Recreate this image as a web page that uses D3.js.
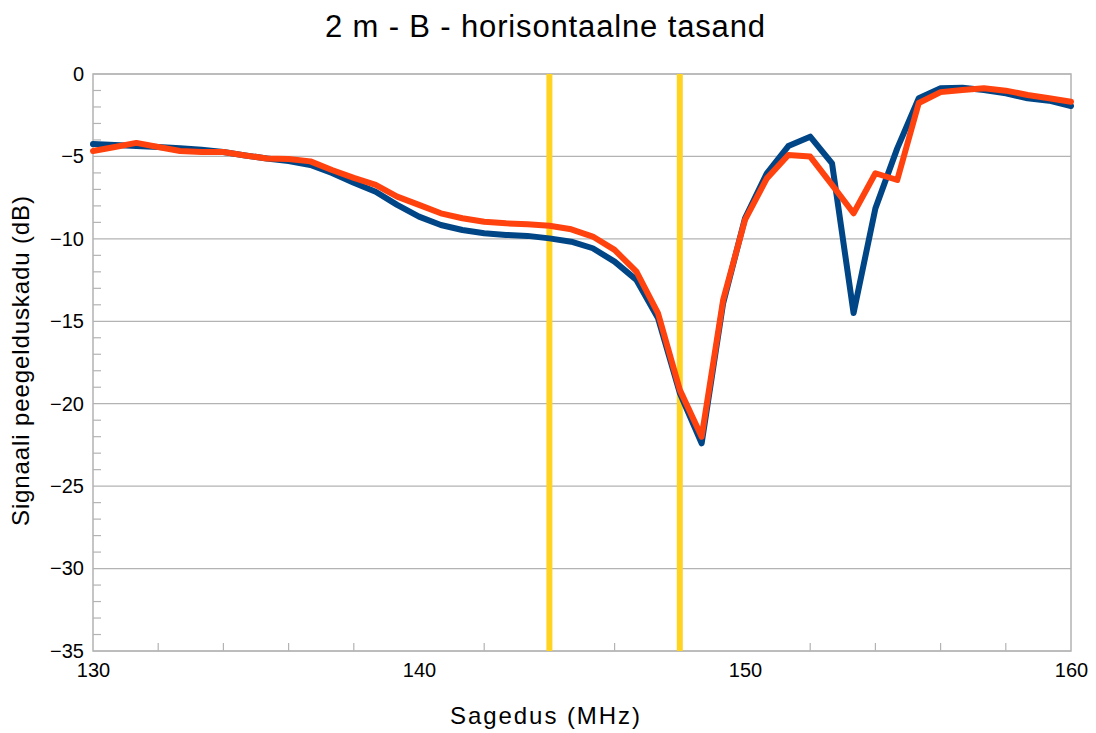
<!DOCTYPE html>
<html>
<head>
<meta charset="utf-8">
<script src="https://cdn.jsdelivr.net/npm/d3@7"></script>
<style>
  body { margin: 0; background: #fff; }
  svg { font-family: "Liberation Sans", Arial, sans-serif; }
</style>
</head>
<body>
<svg id="chart"></svg>
<script>
// frequency points (MHz)
const freq = [130, 130.67, 131.33, 132, 132.67, 133.33, 134, 134.67, 135.33, 136,
  136.67, 137.33, 138, 138.67, 139.33, 140, 140.67, 141.33, 142, 142.67,
  143.33, 144, 144.67, 145.33, 146, 146.67, 147.33, 148, 148.67, 149.33,
  150, 150.67, 151.33, 152, 152.67, 153.33, 154, 154.67, 155.33, 156,
  156.67, 157.33, 158, 158.67, 159.33, 160];

// blue series (dB)
const blueVals = [-4.25, -4.3, -4.37, -4.43, -4.5, -4.6, -4.73, -4.94, -5.12, -5.28,
  -5.52, -6.0, -6.6, -7.14, -7.94, -8.65, -9.16, -9.46, -9.66, -9.76,
  -9.82, -9.97, -10.17, -10.57, -11.38, -12.49, -14.8, -19.35, -22.4, -13.9,
  -8.75, -6.02, -4.37, -3.8, -5.42, -14.5, -8.15, -4.51, -1.47, -0.87,
  -0.83, -0.97, -1.17, -1.47, -1.62, -1.94];

// orange series (dB)
const orangeVals = [-4.67, -4.43, -4.18, -4.43, -4.67, -4.73, -4.73, -4.94, -5.12, -5.15,
  -5.3, -5.82, -6.3, -6.73, -7.44, -7.94, -8.45, -8.75, -8.96, -9.06,
  -9.12, -9.2, -9.42, -9.86, -10.67, -11.99, -14.5, -19.16, -22.0, -13.7,
  -8.85, -6.33, -4.91, -5.01, -6.73, -8.45, -6.02, -6.43, -1.76, -1.1,
  -0.97, -0.87, -1.01, -1.27, -1.47, -1.68];

// marker lines (MHz)
const markers = [144, 148];

const xTicks = [130, 140, 150, 160];
const yTicks = [0, -5, -10, -15, -20, -25, -30, -35];

var width = 1096;
var height = 733;
var margin = { top: 74, right: 25, bottom: 82, left: 93 };

var svg = d3.select('#chart')
  .attr('width', width)
  .attr('height', height);

var x = d3.scaleLinear()
  .domain([130, 160])
  .range([margin.left, width - margin.right]);

var y = d3.scaleLinear()
  .domain([-35, 0])
  .range([height - margin.bottom, margin.top]);

var gridColor = '#b3b3b3';

// horizontal grid
svg.append('g')
  .selectAll('line')
  .data(yTicks)
  .join('line')
    .attr('x1', x(130)).attr('x2', x(160))
    .attr('y1', d => y(d)).attr('y2', d => y(d))
    .attr('stroke', gridColor)
    .attr('stroke-width', 1.2);

// minor ticks, pointing inward
svg.append('g')
  .selectAll('line')
  .data(d3.range(-34, 0, 1).filter(d => d % 5 !== 0))
  .join('line')
    .attr('x1', x(130)).attr('x2', x(130) + 8)
    .attr('y1', d => y(d)).attr('y2', d => y(d))
    .attr('stroke', gridColor)
    .attr('stroke-width', 1.2);

svg.append('g')
  .selectAll('line')
  .data(d3.range(132, 160, 2).filter(d => d % 10 !== 0))
  .join('line')
    .attr('x1', d => x(d)).attr('x2', d => x(d))
    .attr('y1', y(-35)).attr('y2', y(-35) - 8)
    .attr('stroke', gridColor)
    .attr('stroke-width', 1.2);

// frame
svg.append('rect')
  .attr('x', x(130)).attr('y', y(0))
  .attr('width', x(160) - x(130))
  .attr('height', y(-35) - y(0))
  .attr('fill', 'none')
  .attr('stroke', gridColor)
  .attr('stroke-width', 1.5);

// axes labels via d3 axes
var yAxis = svg.append('g')
  .attr('transform', 'translate(' + x(130) + ',0)')
  .call(d3.axisLeft(y).tickValues(yTicks).tickSize(0).tickPadding(9).tickFormat(d3.format('d')));
yAxis.select('.domain').remove();
yAxis.selectAll('text').style('font-size', '20px').attr('fill', '#000');

var xAxis = svg.append('g')
  .attr('transform', 'translate(0,' + y(-35) + ')')
  .call(d3.axisBottom(x).tickValues(xTicks).tickSize(0).tickPadding(12).tickFormat(d3.format('d')));
xAxis.select('.domain').remove();
xAxis.selectAll('text').style('font-size', '20px').attr('fill', '#000');

// yellow markers
svg.append('g')
  .selectAll('line')
  .data(markers)
  .join('line')
    .attr('x1', d => x(d)).attr('x2', d => x(d))
    .attr('y1', y(0)).attr('y2', y(-35))
    .attr('stroke', '#ffd320')
    .attr('stroke-width', 6);

var line = d3.line()
  .x((d, i) => x(freq[i]))
  .y(d => y(d));

svg.append('path')
  .datum(blueVals)
  .attr('d', line)
  .attr('fill', 'none')
  .attr('stroke', '#004586')
  .attr('stroke-width', 6)
  .attr('stroke-linejoin', 'round')
  .attr('stroke-linecap', 'round');

svg.append('path')
  .datum(orangeVals)
  .attr('d', line)
  .attr('fill', 'none')
  .attr('stroke', '#ff420e')
  .attr('stroke-width', 6)
  .attr('stroke-linejoin', 'round')
  .attr('stroke-linecap', 'round');

// title
svg.append('text')
  .attr('x', 545)
  .attr('y', 37)
  .attr('text-anchor', 'middle')
  .attr('textLength', 440)
  .attr('lengthAdjust', 'spacing')
  .style('font-size', '31px')
  .text('2 m - B - horisontaalne tasand');

// axis titles
svg.append('text')
  .attr('x', 545)
  .attr('y', 724)
  .attr('text-anchor', 'middle')
  .attr('textLength', 190)
  .attr('lengthAdjust', 'spacing')
  .style('font-size', '24px')
  .text('Sagedus (MHz)');

svg.append('text')
  .attr('transform', 'translate(29,361) rotate(-90)')
  .attr('text-anchor', 'middle')
  .attr('textLength', 330)
  .attr('lengthAdjust', 'spacing')
  .style('font-size', '24px')
  .text('Signaali peegelduskadu (dB)');
</script>
</body>
</html>
